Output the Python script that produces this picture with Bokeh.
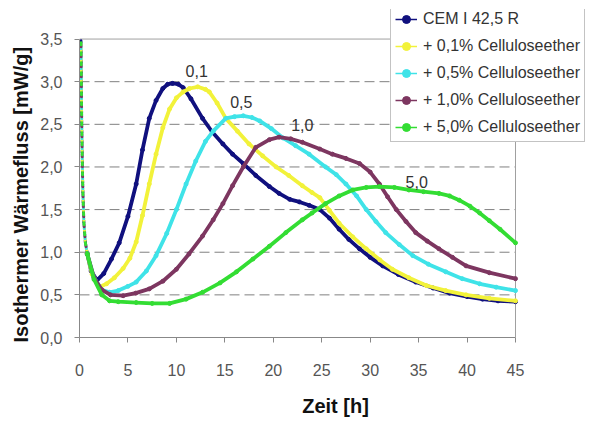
from bokeh.plotting import figure
from bokeh.models import ColumnDataSource, Legend, LegendItem, FixedTicker, Range1d, Title
from bokeh.core.properties import value
from bokeh.embed import file_html
from bokeh.resources import INLINE

# ---------------- data ----------------
x_ticks = [0, 5, 10, 15, 20, 25, 30, 35, 40, 45]
y_ticks = [0.0, 0.5, 1.0, 1.5, 2.0, 2.5, 3.0, 3.5]
y_tick_labels = ["0,0", "0,5", "1,0", "1,5", "2,0", "2,5", "3,0", "3,5"]
X_MAX = 45
Y_MAX = 3.5

series_names = ["CEM I 42,5 R", "+ 0,1% Celluloseether", "+ 0,5% Celluloseether",
                "+ 1,0% Celluloseether", "+ 5,0% Celluloseether"]

# common initial heat peak (dotted descent)
drop_x = [0.15, 0.18, 0.22, 0.28, 0.35, 0.45, 0.6, 0.8]
drop_y = [3.48, 3.1, 2.6, 2.1, 1.7, 1.35, 1.12, 0.98]

cem_x = [0.8, 1.2, 1.8, 2.5, 3.3, 4.1, 5.0, 5.85, 6.5, 7.2, 7.9, 8.6, 9.1, 9.6, 10.2, 10.7,
         11.5, 12.7, 13.7, 14.8, 15.8, 16.9, 18.2, 19.6, 20.6, 21.7, 22.7, 23.7, 24.8, 25.8,
         26.8, 27.8, 28.9, 30.0, 31.3, 32.9, 34.7, 36.5, 38.2, 40.0, 41.6, 43.2, 45.0]
cem_y = [0.98, 0.78, 0.67, 0.75, 0.92, 1.11, 1.42, 1.80, 2.20, 2.57, 2.78, 2.92, 2.97, 2.98,
         2.97, 2.93, 2.80, 2.57, 2.41, 2.27, 2.15, 2.04, 1.90, 1.77, 1.69, 1.62, 1.59, 1.55,
         1.50, 1.40, 1.27, 1.15, 1.04, 0.94, 0.84, 0.74, 0.65, 0.58, 0.52, 0.48, 0.45, 0.43, 0.42]

c01_x = [0.8, 1.3, 2.0, 2.8, 3.6, 4.5, 5.2, 5.85, 6.5, 7.2, 7.9, 8.6, 9.3, 10.0, 10.7, 11.35,
         12.2, 13.0, 13.4, 14.2, 15.1, 16.3, 17.5, 18.9, 20.3, 21.6, 23.0, 24.0, 24.8, 25.8,
         26.8, 28.2, 29.6, 31.0, 32.3, 34.0, 35.8, 37.8, 39.9, 42.3, 45.0]
c01_y = [0.98, 0.74, 0.59, 0.63, 0.70, 0.81, 0.93, 1.12, 1.43, 1.80, 2.15, 2.46, 2.68, 2.81,
         2.88, 2.92, 2.94, 2.91, 2.88, 2.75, 2.57, 2.42, 2.27, 2.13, 2.00, 1.90, 1.78, 1.70,
         1.64, 1.49, 1.34, 1.18, 1.04, 0.91, 0.80, 0.70, 0.61, 0.55, 0.50, 0.46, 0.43]

c05_x = [0.8, 1.5, 2.3, 3.1, 4.0, 5.0, 5.85, 6.9, 7.9, 9.0, 10.0, 11.0, 12.0, 13.0, 13.8, 15.1,
         16.0, 16.9, 17.8, 18.6, 19.8, 21.0, 22.3, 23.7, 25.4, 26.5, 27.5, 28.6, 29.6, 30.6,
         31.6, 33.0, 34.4, 36.0, 37.8, 39.5, 41.3, 43.0, 45.0]
c05_y = [0.98, 0.70, 0.56, 0.53, 0.55, 0.60, 0.65, 0.78, 0.96, 1.22, 1.50, 1.80, 2.07, 2.30,
         2.42, 2.57, 2.59, 2.60, 2.58, 2.54, 2.45, 2.34, 2.25, 2.15, 2.00, 1.91, 1.80, 1.66,
         1.50, 1.36, 1.23, 1.09, 0.96, 0.86, 0.77, 0.69, 0.63, 0.59, 0.55]

c10_x = [0.8, 1.5, 2.3, 3.2, 4.5, 5.8, 7.2, 8.6, 10.0, 11.3, 12.7, 13.8, 14.8, 15.8, 16.9, 18.2,
         19.6, 20.6, 21.8, 23.0, 24.8, 26.1, 27.5, 28.9, 30.0, 30.95, 31.8, 32.7, 33.7, 34.7,
         35.9, 37.1, 38.5, 39.9, 42.3, 45.0]
c10_y = [0.98, 0.70, 0.56, 0.50, 0.49, 0.52, 0.57, 0.66, 0.80, 0.98, 1.19, 1.38, 1.57, 1.78,
         2.00, 2.23, 2.32, 2.35, 2.33, 2.29, 2.21, 2.15, 2.10, 2.04, 1.94, 1.80, 1.65, 1.50,
         1.36, 1.23, 1.13, 1.04, 0.94, 0.84, 0.76, 0.69]

c50_x = [0.8, 1.5, 2.3, 3.1, 4.0, 5.85, 7.5, 9.3, 11.0, 12.7, 14.5, 16.2, 17.9, 19.6, 21.3, 23.0,
         24.0, 25.4, 26.8, 28.2, 29.6, 30.95, 32.5, 34.0, 35.5, 37.1, 38.2, 39.2, 40.3, 41.3,
         42.3, 43.4, 45.0]
c50_y = [0.98, 0.68, 0.50, 0.43, 0.42, 0.41, 0.40, 0.40, 0.45, 0.53, 0.64, 0.77, 0.92, 1.07,
         1.23, 1.38, 1.46, 1.57, 1.66, 1.73, 1.76, 1.77, 1.76, 1.73, 1.71, 1.69, 1.66, 1.61,
         1.54, 1.46, 1.37, 1.27, 1.11]

label_x = [12.1, 16.7, 23.0, 34.8]
label_y = [3.13, 2.76, 2.49, 1.82]
label_text = ["0,1", "0,5", "1,0", "5,0"]

x_title = "Zeit [h]"
y_title = "Isothermer Wärmefluss [mW/g]"

colors = ["#10107e", "#f2f23a", "#3fe3e8", "#7d3660", "#33dd33"]
FONT = "Liberation Sans"

# ---------------- layout ----------------
W, H = 592, 419
LEFT, RIGHT_BORDER, BOTTOM = 79, 1, 77
AX_RIGHT_PX, AX_TOP_PX = 515, 39      # where x=45 and y=3.5 sit
FRAME_TOP = 9
frame_w = W - LEFT - RIGHT_BORDER
frame_h = (H - BOTTOM) - FRAME_TOP
x_end = X_MAX * frame_w / (AX_RIGHT_PX - LEFT)
y_end = Y_MAX * frame_h / ((H - BOTTOM) - AX_TOP_PX)

p = figure(width=W, height=H, x_range=Range1d(0, x_end), y_range=Range1d(0, y_end),
           output_backend="svg", toolbar_location=None,
           min_border_left=LEFT, min_border_right=RIGHT_BORDER,
           min_border_top=FRAME_TOP, min_border_bottom=BOTTOM)
p.background_fill_color = "white"
p.border_fill_color = "white"
p.outline_line_color = None
p.xgrid.grid_line_color = None
p.ygrid.grid_line_color = None

# dashed horizontal grid lines + plot-area border (top / right), limited to the data area
grid_y = [t for t in y_ticks if 0 < t < Y_MAX]
p.segment(x0=[0] * len(grid_y), x1=[X_MAX] * len(grid_y), y0=grid_y, y1=grid_y,
          line_color="#808080", line_width=1, line_dash="10 5")
p.segment(x0=[0, X_MAX], x1=[X_MAX, X_MAX], y0=[Y_MAX, 0], y1=[Y_MAX, Y_MAX],
          line_color="#a0a0a0", line_width=1)

p.xaxis.ticker = FixedTicker(ticks=x_ticks)
p.yaxis.ticker = FixedTicker(ticks=y_ticks)
p.yaxis.major_label_overrides = {t: l for t, l in zip(y_ticks, y_tick_labels)}
p.xaxis.bounds = (0, X_MAX)
p.yaxis.bounds = (0, Y_MAX)

for ax in (p.xaxis[0], p.yaxis[0]):
    ax.axis_line_color = "#888888"
    ax.major_tick_line_color = "#888888"
    ax.major_tick_out = 5
    ax.major_tick_in = 0
    ax.minor_tick_line_color = None
    ax.major_label_text_font = FONT
    ax.major_label_text_font_size = "16px"
    ax.major_label_text_color = "#555555"
    ax.axis_label_text_font = FONT
    ax.axis_label_text_font_size = "20px"
    ax.axis_label_text_font_style = "bold"
    ax.axis_label_text_color = "#111111"

p.xaxis.axis_label = x_title
p.yaxis.major_label_standoff = 12
p.xaxis.major_label_standoff = 21
p.xaxis.axis_label_standoff = 16

# y title as a side title so it can be anchored at the bottom of the data area
ytitle = Title(text=y_title, align="left", offset=-5, text_font=FONT,
               text_font_size="20px", text_font_style="bold", text_color="#111111",
               standoff=11)
p.add_layout(ytitle, "left")

drop_src = ColumnDataSource(dict(x=drop_x, y=drop_y))
series = [(cem_x, cem_y), (c01_x, c01_y), (c05_x, c05_y), (c10_x, c10_y), (c50_x, c50_y)]

items = []
for i, ((xs, ys), name, col) in enumerate(zip(series, series_names, colors)):
    src = ColumnDataSource(dict(x=xs, y=ys))
    p.line("x", "y", source=drop_src, line_color=col, line_width=3, line_dash="2 8",
           line_dash_offset=2 * i, line_cap="round")
    lr = p.line("x", "y", source=src, line_color=col, line_width=1.5)
    p.line("x", "y", source=src, line_color=col, line_width=3.8, line_join="round")
    sr = p.scatter("x", "y", source=src, size=4, color=col)
    items.append(LegendItem(label=name, renderers=[lr, sr]))

lbl_src = ColumnDataSource(dict(x=label_x, y=label_y, t=label_text))
p.text("x", "y", text="t", source=lbl_src, text_align="center", text_baseline="middle",
       text_font=value(FONT), text_font_size="16px", text_color="#333333")

legend = Legend(items=items, location=(311, 195), orientation="vertical")
legend.label_text_font = FONT
legend.label_text_font_size = "16px"
legend.label_text_color = "#333333"
legend.glyph_width = 22
legend.glyph_height = 20
legend.label_height = 20
legend.spacing = 7
legend.padding = 4
legend.margin = 0
legend.label_standoff = 6
legend.border_line_color = "#888888"
legend.border_line_width = 1
legend.background_fill_color = "white"
legend.background_fill_alpha = 1.0
p.add_layout(legend, "center")

open("out.html", "w").write(file_html(p, INLINE))
